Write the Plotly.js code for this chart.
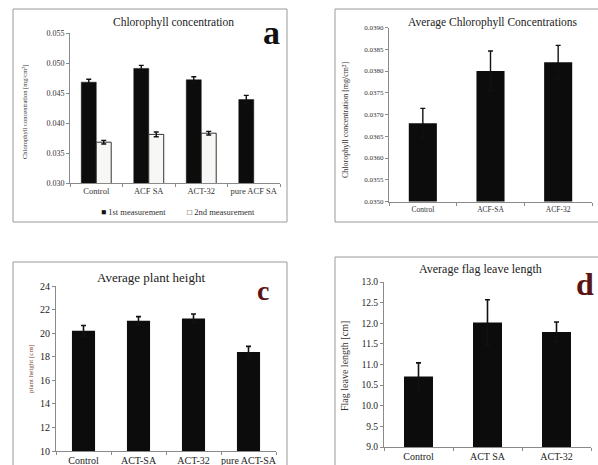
<!DOCTYPE html>
<html>
<head>
<meta charset="utf-8">
<script src="https://cdn.plot.ly/plotly-3.0.1.min.js"></script>
<style>html,body{margin:0;padding:0;background:#fff;}#chart{width:598px;height:465px;}</style>
</head>
<body>
<div id="chart"></div>
<script>
// Panel a: Chlorophyll concentration
const catsA = ['Control', 'ACF SA', 'ACT-32', 'pure ACF SA'];
const firstA = [0.0468, 0.0491, 0.0472, 0.0439];
const firstAErr = [0.0005, 0.0005, 0.0005, 0.0007];
const secondA = [0.0368, 0.0381, 0.0383, null];
const secondAErr = [0.0003, 0.0004, 0.0003, null];
const legendA = ['1st measurement', '2nd measurement'];

// Panel b: Average Chlorophyll Concentrations
const catsB = ['Control', 'ACF-SA', 'ACF-32'];
const valsB = [0.0368, 0.0380, 0.0382];
const errB = [0.00034, 0.00046, 0.00039];

// Panel c: Average plant height
const catsC = ['Control', 'ACT-SA', 'ACT-32', 'pure ACT-SA'];
const valsC = [20.2, 21.05, 21.25, 18.4];
const errC = [0.45, 0.35, 0.37, 0.48];

// Panel d: Average flag leave length
const catsD = ['Control', 'ACT SA', 'ACT-32'];
const valsD = [10.71, 12.02, 11.79];
const errD = [0.33, 0.55, 0.24];

const serif = 'Liberation Serif, Times New Roman, serif';
const W = 598, H = 465;
const px = v => v / W;
const py = v => 1 - v / H;

function eb(arr, t) {
  return {type: 'data', array: arr, visible: true, color: '#111', thickness: t || 1.4, width: 2.5};
}

const data = [
  {type: 'bar', name: legendA[0], x: catsA, y: firstA, xaxis: 'x', yaxis: 'y',
   marker: {color: '#0c0c0c', line: {color: '#0c0c0c', width: 0.5}},
   offset: -0.285, width: 0.285, error_y: eb(firstAErr)},
  {type: 'bar', name: legendA[1], x: catsA, y: secondA, xaxis: 'x', yaxis: 'y',
   marker: {color: '#f7f7f5', line: {color: '#333', width: 1}},
   offset: 0, width: 0.285, error_y: eb(secondAErr)},
  {type: 'bar', name: 'b', x: catsB, y: valsB, xaxis: 'x2', yaxis: 'y2',
   marker: {color: '#0c0c0c'}, width: 0.415, error_y: eb(errB)},
  {type: 'bar', name: 'c', x: catsC, y: valsC, xaxis: 'x3', yaxis: 'y3',
   marker: {color: '#0c0c0c'}, width: 0.42, error_y: eb(errC, 1.6)},
  {type: 'bar', name: 'd', x: catsD, y: valsD, xaxis: 'x4', yaxis: 'y4',
   marker: {color: '#0c0c0c'}, width: 0.42, error_y: eb(errD, 1.6)}
];

function xax(domain, anchor, fs, col) {
  return {domain: domain, anchor: anchor, type: 'category', showline: true, linecolor: '#8a8a8a', linewidth: 1,
    ticks: 'outside', ticklen: 3, tickcolor: '#8a8a8a', tickson: 'boundaries', showgrid: false, zeroline: false,
    tickangle: 0, tickfont: {family: serif, size: fs, color: col}, fixedrange: true};
}
function yax(domain, anchor, range, dtick, fmt, fs, col) {
  return {domain: domain, anchor: anchor, range: range, dtick: dtick, tick0: range[0], tickformat: fmt,
    showline: true, linecolor: '#8a8a8a', linewidth: 1, ticks: 'outside', ticklen: 3, tickcolor: '#8a8a8a',
    showgrid: false, zeroline: false, tickfont: {family: serif, size: fs, color: col}, fixedrange: true};
}

function ann(text, x, y, size, color, extra) {
  return Object.assign({text: text, xref: 'paper', yref: 'paper', x: px(x), y: py(y), showarrow: false,
    xanchor: 'center', yanchor: 'middle', font: {family: serif, size: size, color: color}}, extra || {});
}

const layout = {
  width: W, height: H,
  margin: {l: 0, r: 0, t: 0, b: 0},
  paper_bgcolor: '#ffffff', plot_bgcolor: 'rgba(0,0,0,0)',
  showlegend: false,
  xaxis: xax([px(70), px(280)], 'y', 8.5, '#333'),
  yaxis: yax([py(183), py(33)], 'x', [0.030, 0.055], 0.005, '.3f', 8, '#333'),
  xaxis2: xax([px(389), px(592)], 'y2', 7.5, '#333'),
  yaxis2: yax([py(201.5), py(27.5)], 'x2', [0.0350, 0.0390], 0.0005, '.4f', 7, '#333'),
  xaxis3: xax([px(56), px(276)], 'y3', 10, '#222'),
  yaxis3: yax([py(451), py(286)], 'x3', [10, 24], 2, 'd', 10, '#222'),
  xaxis4: xax([px(384), px(591)], 'y4', 10, '#222'),
  yaxis4: yax([py(447), py(282)], 'x4', [9, 13], 0.5, '.1f', 9.5, '#222'),
  shapes: [
    {type: 'rect', xref: 'paper', yref: 'paper', x0: px(13), x1: px(287), y0: py(222), y1: py(9), line: {color: '#9a9a9a', width: 1}},
    {type: 'rect', xref: 'paper', yref: 'paper', x0: px(335), x1: px(600), y0: py(222), y1: py(9), line: {color: '#9a9a9a', width: 1}},
    {type: 'rect', xref: 'paper', yref: 'paper', x0: px(13), x1: px(287), y0: py(470), y1: py(262), line: {color: '#9a9a9a', width: 1}},
    {type: 'rect', xref: 'paper', yref: 'paper', x0: px(335), x1: px(600), y0: py(470), y1: py(257), line: {color: '#9a9a9a', width: 1}}
  ],
  annotations: [
    ann('Chlorophyll concentration', 174, 22, 11.5, '#222'),
    ann('<b>a</b>', 271, 32, 34, '#111'),
    ann('Chlorophyll concentration [mg/cm²]', 25, 112, 6.5, '#333', {textangle: -90}),
    ann('■ <span style="color:#333">' + legendA[0] + '</span>', 99, 212, 8.5, '#111', {xanchor: 'left'}),
    ann('□ <span style="color:#333">' + legendA[1] + '</span>', 185, 212, 8.5, '#333', {xanchor: 'left'}),

    ann('Average Chlorophyll Concentrations', 493, 22, 11.5, '#222'),
    ann('Chlorophyll concentration [mg/cm²]', 345, 120, 8, '#333', {textangle: -90}),

    ann('Average plant height', 151, 277, 13, '#222'),
    ann('<b>c</b>', 263, 290, 28, '#5a1414'),
    ann('plant height [cm]', 31, 369, 7, '#7a3b2e', {textangle: -90}),

    ann('Average flag leave length', 480, 269, 12, '#222'),
    ann('<b>d</b>', 585, 284, 32, '#5a1414'),
    ann('Flag leave length [cm]', 344, 366, 10, '#333', {textangle: -90})
  ]
};

Plotly.newPlot('chart', data, layout, {staticPlot: true, displayModeBar: false});
</script>
</body>
</html>
